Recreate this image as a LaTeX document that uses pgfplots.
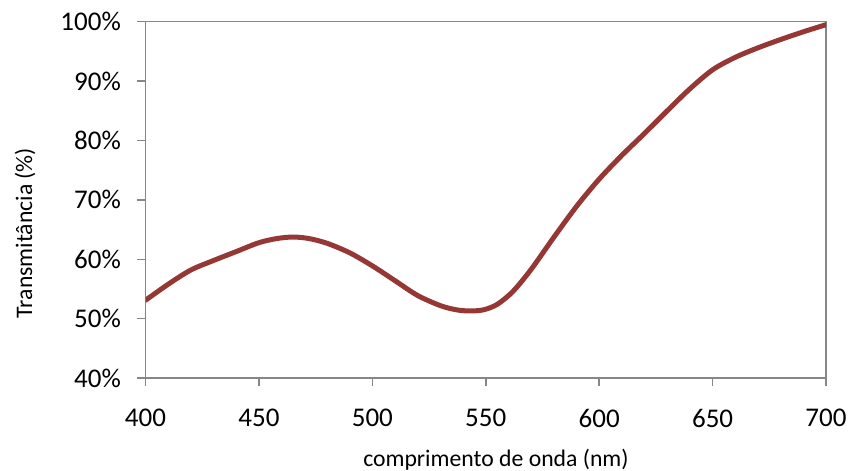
\documentclass[border=0pt]{standalone}
\usepackage{fontspec}
\setmainfont{Carlito}
\usepackage{pgfplots}
\pgfplotsset{compat=1.18}
\usetikzlibrary{calc}
\definecolor{curvered}{HTML}{953735}
\definecolor{axgray}{HTML}{878787}

\pgfplotstableread{
lambda T
400   53.1
410   55.8
420   58.2
430   59.8
440   61.3
450   62.8
458   63.5
465   63.75
472   63.5
480   62.7
490   61.1
500   58.9
510   56.4
520   53.9
530   52.2
537   51.5
543   51.3
549   51.5
555   52.4
562   54.6
570   58.3
580   63.7
590   68.9
600   73.5
610   77.5
620   81.2
630   85.0
640   88.7
650   91.9
660   94.0
670   95.6
680   97.0
690   98.3
700   99.5
}\transm

\begin{document}
\begin{tikzpicture}
\begin{axis}[
  name=ax,
  scale only axis,
  width=340.25pt, height=178.2pt,
  xmin=400, xmax=700, ymin=40, ymax=100,
  xtick={400,450,...,700},
  ytick={40,50,...,100},
  yticklabel={\pgfmathprintnumber{\tick}\%},
  /pgf/number format/assume math mode=true,
  tick align=outside,
  tickwidth=4pt,
  tick pos=left,
  axis line style={draw=axgray, line width=0.75pt},
  major tick style={axgray, line width=0.75pt},
  tick label style={font=\fontsize{13.5}{15}\selectfont, text=black},
  xticklabel style={yshift=-7.8pt},
  yticklabel style={xshift=-4.8pt},
  xlabel={comprimento de onda (nm)},
  ylabel={Transmitância (\%)},
  label style={font=\fontsize{11.85}{13}\selectfont},
  xlabel style={at={(rel axis cs:0.515,0)}, anchor=base, yshift=-43.95pt},
  ylabel style={at={(rel axis cs:0,0.407)}, anchor=center, yshift=60.25pt},
]
\addplot[curvered, line width=2.5pt, smooth, tension=0.5, line cap=round] table[x=lambda, y=T] {\transm};
\end{axis}
\pgfresetboundingbox
\path[use as bounding box] ($(ax.south west)+(-72.75pt,-45.95pt)$) rectangle ($(ax.north east)+(11pt,10.85pt)$);
\end{tikzpicture}
\end{document}
